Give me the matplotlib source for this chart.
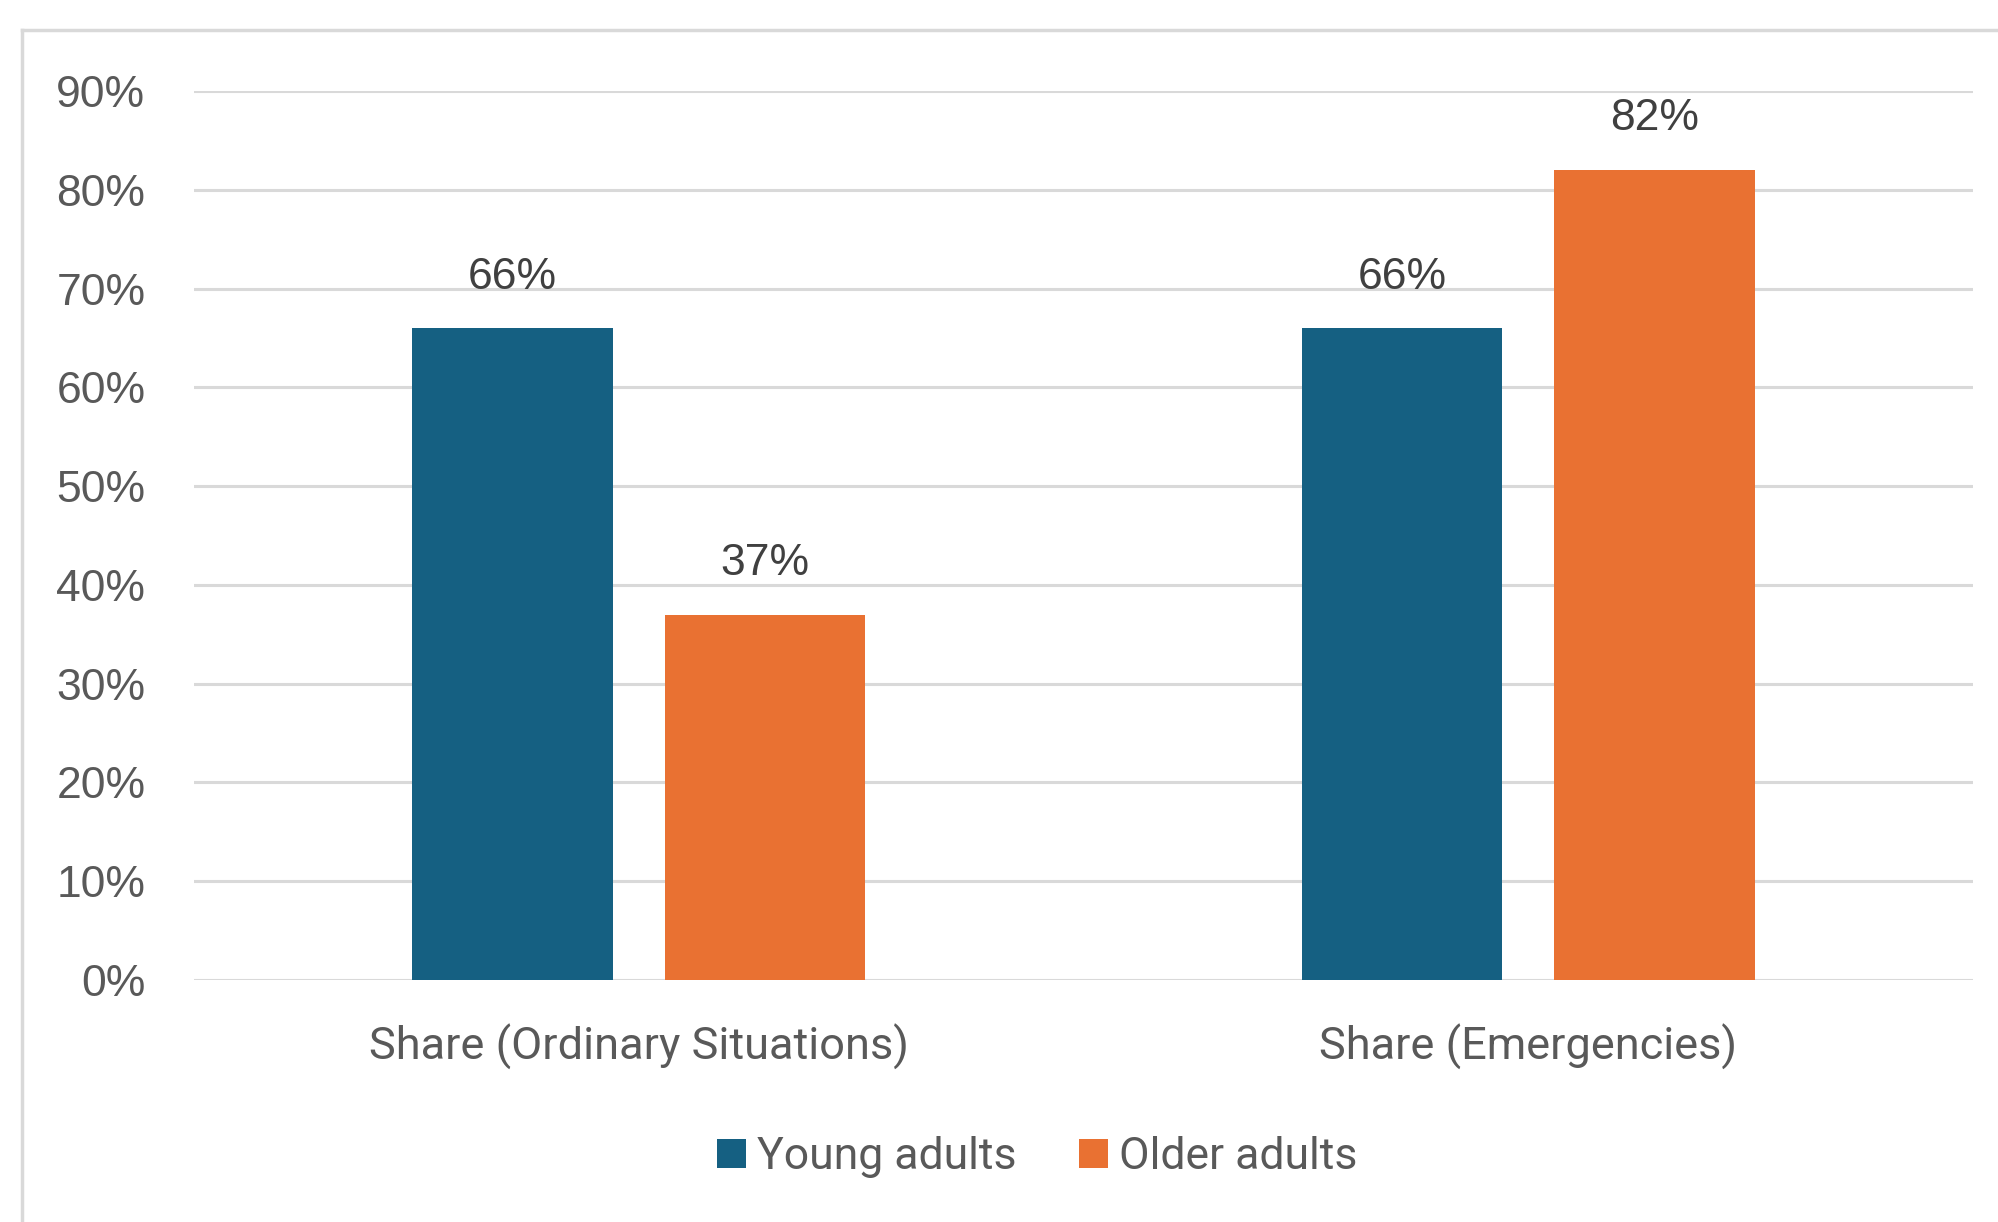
import matplotlib
matplotlib.use("Agg")
import matplotlib.pyplot as plt
from matplotlib.lines import Line2D
from matplotlib.patches import Patch
import numpy as np

categories = ["Share (Ordinary Situations)", "Share (Emergencies)"]
series_names = ["Young adults", "Older adults"]
young_adults = [66, 66]
older_adults = [37, 82]
y_ticks = [0, 10, 20, 30, 40, 50, 60, 70, 80, 90]
y_tick_labels = [f"{v}%" for v in y_ticks]

colors = ["#156082", "#E97132"]
grid_color = "#D9D9D9"
tick_color = "#595959"
label_color = "#404040"

W, H = 1999, 1222
fig = plt.figure(figsize=(W / 100, H / 100), dpi=100)

# axes placement in pixel terms
left, right, bottom, top = 194, 1973, 980, 91
ax = fig.add_axes([left / W, 1 - bottom / H, (right - left) / W, (bottom - top) / H])

x = np.arange(len(categories))
bar_w = 0.225
offset = 0.142
series = [young_adults, older_adults]
for i, (vals, name) in enumerate(zip(series, series_names)):
    xs = x + (offset if i else -offset)
    bars = ax.bar(xs, vals, width=bar_w, color=colors[i], label=name, zorder=3)
    for b, v in zip(bars, vals):
        ax.annotate(f"{v}%", (b.get_x() + b.get_width() / 2, v),
                    xytext=(0, 22), textcoords="offset points",
                    ha="center", va="bottom", fontsize=32,
                    family="Liberation Sans", color=label_color)

ax.set_xlim(-0.5, 1.5)
ax.set_ylim(0, 90)
ax.set_yticks(y_ticks)
ax.set_yticklabels(y_tick_labels, family="Liberation Sans", fontsize=32, color=tick_color)
ax.tick_params(axis="y", length=0, pad=35)
ax.set_xticks(x)
ax.set_xticklabels(categories, family="Roboto", fontsize=32.5, color=tick_color)
ax.tick_params(axis="x", length=0, pad=32)
ax.yaxis.grid(True, color=grid_color, linewidth=2.2, zorder=0)
ax.set_axisbelow(True)
for s in ax.spines.values():
    s.set_visible(False)

# outer chart border running off the right and bottom edges
fx = 22 / W
fy = 1 - 30 / H
fig.add_artist(Line2D([fx, fx], [0, fy], transform=fig.transFigure, color=grid_color, linewidth=2.5))
fig.add_artist(Line2D([fx, 1], [fy, fy], transform=fig.transFigure, color=grid_color, linewidth=2.5))

handles = [Patch(facecolor=c) for c in colors]
fig.legend(handles, series_names, loc="center", bbox_to_anchor=(1037 / W, 1 - 1157 / H),
           ncol=2, frameon=False, prop={"family": "Roboto", "size": 32},
           labelcolor=tick_color, handlelength=0.65, handleheight=0.65,
           handletextpad=0.25, columnspacing=1.4)

fig.savefig("out.png", dpi=100, facecolor="white")
